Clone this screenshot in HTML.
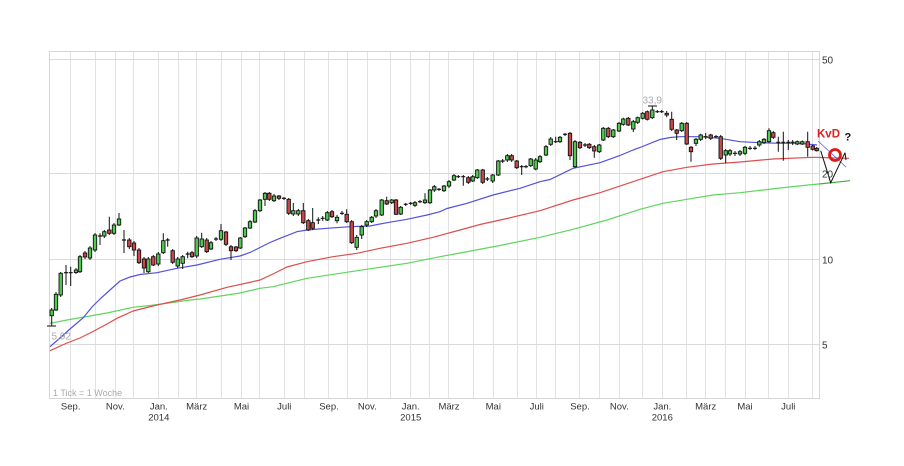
<!DOCTYPE html>
<html><head><meta charset="utf-8"><style>html,body{margin:0;padding:0;background:#fff}svg{display:block}text{font-family:"Liberation Sans",Arial,sans-serif}</style></head>
<body>
<svg width="904" height="466" viewBox="0 0 904 466" xmlns="http://www.w3.org/2000/svg">
<rect width="904" height="466" fill="#fff"/>
<!-- grid -->
<path d="M70.5 51V398M95.5 51V398M115.5 51V398M133.5 51V398M158.5 51V398M178.5 51V398M196.5 51V398M221.5 51V398M241.5 51V398M259.5 51V398M284.5 51V398M304.5 51V398M328.5 51V398M347.5 51V398M367.5 51V398M390.5 51V398M410.5 51V398M429.5 51V398M448.5 51V398M473.5 51V398M493.5 51V398M517.5 51V398M536.5 51V398M555.5 51V398M579.5 51V398M599.5 51V398M619.5 51V398M642.5 51V398M662.5 51V398M686.5 51V398M705.5 51V398M725.5 51V398M745.5 51V398M768.5 51V398M788.5 51V398M812.5 51V398" stroke="#e2e2e2" stroke-width="1" fill="none"/>
<path d="M49 59.5H819.5M49 173.5H819.5M49 259.5H819.5M49 344.5H819.5" stroke="#dadada" stroke-width="1"/>
<rect x="49.5" y="51.5" width="770" height="347" fill="none" stroke="#d6d6d6" stroke-width="1"/>

<!-- moving averages -->
<polyline fill="none" stroke="#5ed65e" stroke-width="1.2" points="50,323.3 67,320 107,313 133,307.3 150,305.5 167,303.3 190,300 200,299 227,295 240,293 260,288.3 273,286.7 307,278.3 340,273.3 373,268.3 407,263.3 440,256.7 460,253 500,245.5 540,237.3 573,229.3 607,220 640,209.3 663,203.3 687,199.3 713,195 740,192.7 780,188 813,184.5 819,184"/>
<polyline fill="none" stroke="#de4e4e" stroke-width="1.2" points="50,350.7 67,343 80,338 93,331.5 107,324 117,318.3 133,311 157,305 180,300 200,295 227,287.3 247,283 260,280 275,273 287,267 307,261.7 333,256.7 357,253.3 380,248.3 407,243.3 433,237.3 460,230 480,224.5 507,218.5 540,210.7 573,200 600,192.7 633,181.7 663,171.7 687,167.3 713,164 740,162 773,159 813,157.3 819,157.3"/>
<polyline fill="none" stroke="#5252dc" stroke-width="1.2" points="50,346.7 60,338 70,329 83,318 92,307 100,299 110,290 120,281 130,277 140,274.5 157,272.7 177,268.3 197,265 220,259.3 240,256 250,252.5 260,247.5 270,242.5 280,238.3 297,231.7 307,230 327,228.3 350,226.7 370,226 387,222.7 407,219.3 427,215 440,211.7 447,208.5 467,203.3 493,195 520,188.3 540,181.7 550,179.5 573,168.3 600,162.7 620,155.5 633,150 640,147.5 660,139.5 670,137.5 680,136.7 700,136.7 720,138.3 740,141.7 760,142.7 780,143.3 800,143.3 817,145"/>

<!-- wicks -->
<path fill="none" stroke="#111" stroke-width="1" d="M51.7 308V326M56 292V311M60.7 272V297M66 265V285M70.7 266.7V286M76 268V274M80 255V273M85 251V259M90 246V260M95 233V252M100 233.3V245M104.3 230V238M109.3 216.7V235M114 223V235M119 213V226M124 230V253M129.3 238V249M134 241V256M139 248V264M144 257V273M148.3 257V273M153.3 255V266M158.3 252V266M163.3 233.3V254M167.7 238V246.7M172.7 249V264M177.7 257V268M182.7 255V269M187.7 251.7V258.3M192 251V258M196.7 236V258M201.7 232.7V248M206.7 238V253M211 241V250M216 237V241M221 224V241M226 231V246M231 245V260M236 246V252M240.3 237V249M245 227V238M250 220V229M255 209V223M260 199V212M265 192V206M269.3 192V201M274 194V202M279 195V200M284 197V200M288.7 198V215M293.3 203V216M298.3 209V216M303.3 203V224M308.3 219V231M312.7 208V230M318.3 217.3V224M322.7 216V221M327.3 211V221M332 210V218M337 215V223.3M342 211V215M346.7 209.3V223M351.7 220V244M356.7 235V250M361.7 225V239M366.7 220V227M371.7 216V223M376 209V218M381.7 199V216M386.7 196.7V205M391.7 199V204M396 199V215M400.7 206V215M405.7 203V206M410.7 202V205M415 201V207M420 200V203M425 193.3V204M430 189V204M434.3 185V192M439 188V191M444 185V192M449 180V188M454 174V181M458.3 175V178M463.3 175V185.7M468.3 176V184M472.7 175V182M477.3 169V179M482.7 169V184M487.3 177V181M492.7 174V183M498.3 160V176M502.7 159V163M507.3 154V162M511.7 154V162M516.7 160V169M521.7 165V175M526 165V168.3M530.7 158V167M535.7 158V170.3M540 155V163M546 145V156M550.7 137V146M555.7 136.7V143M560 136V143M565 133V136M570 132V160M575 140V168.3M580 141V149M585 143V147M589.3 143V149M594.3 145V157.7M599.3 144V153M603.3 127V141M608.3 127V138M613.3 129V138M619 122V132M623.3 117.7V125.7M628.3 117V126M633.3 120V132M637.7 116.5V124M642.7 112V119.5M647.3 110.5V120.5M652.3 106V119M657.3 110V113M661.7 110V113M666.7 111V117.3M671.7 111.7V131M676.7 129V140M681.7 122V132M686.7 122V145M691 146V161.7M696 138V146M700.7 133.7V141M705.7 133V139M710.7 133.7V140M716 135V138.3M720.7 135V160M725.7 149V163.3M730 149V156M735 151V156M740 150V156M745 146V155M750 146V150M755 146V150M759.3 140V146.7M764 138V144M769 128.3V143M773.3 131V139M778.3 136.7V151.7M783.3 131.7V160.7M788.3 140V150M792.7 140V145M797.3 140.5V145M802.3 140.5V145M807.7 131.7V156.7M812.7 145V150.5M816.7 147V151.5"/>

<!-- dojis -->
<path fill="none" stroke="#111" stroke-width="1.2" d="M64 272.7h4M68.7 272.7h4M98 236h4M122 240h4M165.7 240h4M185.7 254h4M214 239h4M282 198.3h4M316.3 220h4M320.7 218.3h4M340 213.3h4M403.7 204.3h4M408.7 203.3h4M418 201.7h4M437 189.3h4M456.3 176.7h4M461.3 176.7h4M485.3 179h4M500.7 161h4M519.7 166.7h4M524 166.7h4M553.7 141.7h4M563 134.3h4M583 145h4M655.3 111.7h4M659.7 111.7h4M703.7 136.7h4M714 136.7h4M733 153.3h4M748 148.3h4M753 148.3h4M776.3 142.3h4M781.3 142.3h4M786.3 142.3h4M790.7 142.3h4"/>

<!-- green bodies -->
<g fill="#4fca4f" stroke="#111" stroke-width="0.9">
<rect x="50" y="310" width="3.4" height="5.7"/><rect x="54.3" y="294.3" width="3.4" height="15.7"/><rect x="59" y="273.3" width="3.4" height="21.7"/><rect x="74.3" y="270" width="3.4" height="2.5"/><rect x="78.3" y="256.7" width="3.4" height="15"/><rect x="88.3" y="248" width="3.4" height="10"/><rect x="93.3" y="235" width="3.4" height="15"/><rect x="102.6" y="231.7" width="3.4" height="4.3"/><rect x="112.3" y="225" width="3.4" height="8.3"/><rect x="117.3" y="219" width="3.4" height="6"/><rect x="146.6" y="259" width="3.4" height="12.7"/><rect x="156.6" y="254" width="3.4" height="10"/><rect x="161.6" y="240.7" width="3.4" height="12"/><rect x="176" y="259" width="3.4" height="7"/><rect x="181" y="256.7" width="3.4" height="6.6"/><rect x="195" y="238" width="3.4" height="18"/><rect x="200" y="239" width="3.4" height="7.7"/><rect x="209.3" y="242.7" width="3.4" height="6.3"/><rect x="219.3" y="230.7" width="3.4" height="8.6"/><rect x="238.6" y="238" width="3.4" height="10"/><rect x="243.3" y="228" width="3.4" height="8.7"/><rect x="248.3" y="221.7" width="3.4" height="6.3"/><rect x="253.3" y="210.7" width="3.4" height="11.3"/><rect x="258.3" y="200" width="3.4" height="10.7"/><rect x="263.3" y="193.3" width="3.4" height="6"/><rect x="272.3" y="196" width="3.4" height="4.7"/><rect x="291.6" y="210.7" width="3.4" height="3.3"/><rect x="296.6" y="210.7" width="3.4" height="3.3"/><rect x="325.6" y="212.7" width="3.4" height="7.3"/><rect x="335.3" y="217.3" width="3.4" height="3.4"/><rect x="355" y="237.3" width="3.4" height="10"/><rect x="360" y="226.7" width="3.4" height="8.3"/><rect x="365" y="221.7" width="3.4" height="3.3"/><rect x="370" y="217.3" width="3.4" height="4.4"/><rect x="374.3" y="210.7" width="3.4" height="5.3"/><rect x="380" y="200" width="3.4" height="15"/><rect x="390" y="200" width="3.4" height="2.7"/><rect x="399" y="207.3" width="3.4" height="6.7"/><rect x="413.3" y="202.7" width="3.4" height="2.6"/><rect x="423.3" y="200" width="3.4" height="2.7"/><rect x="428.3" y="190" width="3.4" height="12.7"/><rect x="432.6" y="186.7" width="3.4" height="3.3"/><rect x="442.3" y="186" width="3.4" height="4.7"/><rect x="447.3" y="181.7" width="3.4" height="4.3"/><rect x="452.3" y="175.7" width="3.4" height="4.3"/><rect x="471" y="176.7" width="3.4" height="4.3"/><rect x="475.6" y="170" width="3.4" height="7.7"/><rect x="491" y="175" width="3.4" height="6"/><rect x="496.6" y="161" width="3.4" height="14"/><rect x="505.6" y="155.7" width="3.4" height="4.3"/><rect x="529" y="159" width="3.4" height="6.7"/><rect x="534" y="160" width="3.4" height="9"/><rect x="538.3" y="156.7" width="3.4" height="5"/><rect x="544.3" y="146.7" width="3.4" height="8.3"/><rect x="549" y="139" width="3.4" height="5.3"/><rect x="558.3" y="137.3" width="3.4" height="4.4"/><rect x="573.3" y="141.7" width="3.4" height="25"/><rect x="597.6" y="145" width="3.4" height="6.7"/><rect x="601.6" y="128.3" width="3.4" height="11.7"/><rect x="611.6" y="130" width="3.4" height="6.7"/><rect x="617.3" y="123.3" width="3.4" height="7.7"/><rect x="621.6" y="119" width="3.4" height="5.3"/><rect x="631.6" y="121.7" width="3.4" height="7.3"/><rect x="636" y="117.7" width="3.4" height="4.6"/><rect x="641" y="113.3" width="3.4" height="5"/><rect x="650.6" y="110" width="3.4" height="7.7"/><rect x="680" y="123.3" width="3.4" height="7.4"/><rect x="694.3" y="139.3" width="3.4" height="4"/><rect x="699" y="135" width="3.4" height="4.3"/><rect x="724" y="150.7" width="3.4" height="4.3"/><rect x="728.3" y="150.7" width="3.4" height="3.3"/><rect x="738.3" y="151.7" width="3.4" height="2.3"/><rect x="743.3" y="147.3" width="3.4" height="6"/><rect x="757.6" y="141.7" width="3.4" height="3.3"/><rect x="762.3" y="139.3" width="3.4" height="3.4"/><rect x="767.3" y="130.7" width="3.4" height="11"/><rect x="795.6" y="141.7" width="3.4" height="2.3"/><rect x="800.6" y="141.7" width="3.4" height="2.3"/>
</g>
<!-- red bodies -->
<g fill="#c94848" stroke="#111" stroke-width="0.9">
<rect x="83.3" y="253" width="3.4" height="4"/><rect x="107.6" y="230" width="3.4" height="3.3"/><rect x="127.6" y="240" width="3.4" height="6.7"/><rect x="132.3" y="243" width="3.4" height="7"/><rect x="137.3" y="250" width="3.4" height="12.7"/><rect x="142.3" y="259" width="3.4" height="9"/><rect x="151.6" y="256.7" width="3.4" height="8.3"/><rect x="171" y="250.7" width="3.4" height="11.6"/><rect x="190.3" y="252.7" width="3.4" height="4"/><rect x="205" y="240" width="3.4" height="11.7"/><rect x="224.3" y="232" width="3.4" height="12.3"/><rect x="229.3" y="246.7" width="3.4" height="4"/><rect x="234.3" y="247" width="3.4" height="3.7"/><rect x="267.6" y="193.3" width="3.4" height="6"/><rect x="277.3" y="196" width="3.4" height="2.3"/><rect x="287" y="199.3" width="3.4" height="14"/><rect x="301.6" y="210.7" width="3.4" height="12"/><rect x="306.6" y="220.7" width="3.4" height="9.3"/><rect x="311" y="222.7" width="3.4" height="5.6"/><rect x="330.3" y="211.7" width="3.4" height="5"/><rect x="345" y="214.3" width="3.4" height="7.4"/><rect x="350" y="221.7" width="3.4" height="21"/><rect x="385" y="200.7" width="3.4" height="3.3"/><rect x="394.3" y="200" width="3.4" height="14.3"/><rect x="466.6" y="177.7" width="3.4" height="4.6"/><rect x="481" y="170" width="3.4" height="12.3"/><rect x="510" y="155.7" width="3.4" height="4.3"/><rect x="515" y="161" width="3.4" height="6.7"/><rect x="568.3" y="133.3" width="3.4" height="22.4"/><rect x="578.3" y="142.3" width="3.4" height="5.4"/><rect x="587.6" y="144.3" width="3.4" height="3.4"/><rect x="592.6" y="146.7" width="3.4" height="4.3"/><rect x="606.6" y="128.3" width="3.4" height="8.4"/><rect x="626.6" y="118.3" width="3.4" height="6.7"/><rect x="645.6" y="111.7" width="3.4" height="7.6"/><rect x="665" y="113.3" width="3.4" height="1.7"/><rect x="670" y="119.3" width="3.4" height="10"/><rect x="675" y="130" width="3.4" height="3.3"/><rect x="685" y="123.3" width="3.4" height="20.7"/><rect x="689.3" y="147.3" width="3.4" height="4.4"/><rect x="709" y="135" width="3.4" height="3.3"/><rect x="719" y="136.7" width="3.4" height="21.6"/><rect x="771.6" y="132.7" width="3.4" height="4.6"/><rect x="806" y="141.7" width="3.4" height="5.6"/><rect x="811" y="146" width="3.4" height="3.3"/><rect x="815" y="148.3" width="3.4" height="2.4"/>
</g>

<!-- high / low markers -->
<path d="M47 326H56M648 106H657" stroke="#111" stroke-width="1"/>
<text x="51.5" y="339.5" font-size="10" fill="#aaa">5,92</text>
<text x="642.5" y="103.5" font-size="10" fill="#aaa">33,9</text>
<text x="53" y="396" font-size="9" fill="#aaa">1 Tick = 1 Woche</text>

<!-- annotation -->
<path d="M819 157.5L849 158.3" stroke="#de4e4e" stroke-width="1.2" fill="none"/>
<path d="M819 184L850 180.7" stroke="#3fb03f" stroke-width="1.2" fill="none"/>
<path d="M818 141L846 167" stroke="#5a5ae0" stroke-width="0.8" fill="none"/>
<path d="M820.7 150.7L830.7 182.7L845 152.7M845 152.7L846 160" stroke="#111" stroke-width="1" fill="none"/>
<circle cx="835" cy="155" r="5.5" fill="none" stroke="#e01818" stroke-width="2.8"/>
<text x="817" y="137.5" font-size="11.5" font-weight="bold" fill="#e02020">KvD</text>
<text x="844.5" y="140.5" font-size="11" font-weight="bold" fill="#111">?</text>

<!-- right axis -->
<g font-size="10" fill="#333">
<text x="822" y="63.5">50</text>
<text x="822" y="177.5">20</text>
<text x="822" y="263.5">10</text>
<text x="822" y="348.5">5</text>
</g>
<!-- bottom axis -->
<g font-size="9.5" fill="#333" text-anchor="middle">
<text x="70.7" y="409.5">Sep.</text>
<text x="115.3" y="409.5">Nov.</text>
<text x="158.8" y="409.5">Jan.</text>
<text x="158.8" y="420.5">2014</text>
<text x="196.7" y="409.5">März</text>
<text x="241.5" y="409.5">Mai</text>
<text x="284.3" y="409.5">Juli</text>
<text x="329" y="409.5">Sep.</text>
<text x="367.3" y="409.5">Nov.</text>
<text x="410.7" y="409.5">Jan.</text>
<text x="410.7" y="420.5">2015</text>
<text x="449" y="409.5">März</text>
<text x="493.3" y="409.5">Mai</text>
<text x="536.7" y="409.5">Juli</text>
<text x="580" y="409.5">Sep.</text>
<text x="619.3" y="409.5">Nov.</text>
<text x="662.3" y="409.5">Jan.</text>
<text x="662.3" y="420.5">2016</text>
<text x="705.7" y="409.5">März</text>
<text x="745" y="409.5">Mai</text>
<text x="788.3" y="409.5">Juli</text>
</g>
</svg>
</body></html>
